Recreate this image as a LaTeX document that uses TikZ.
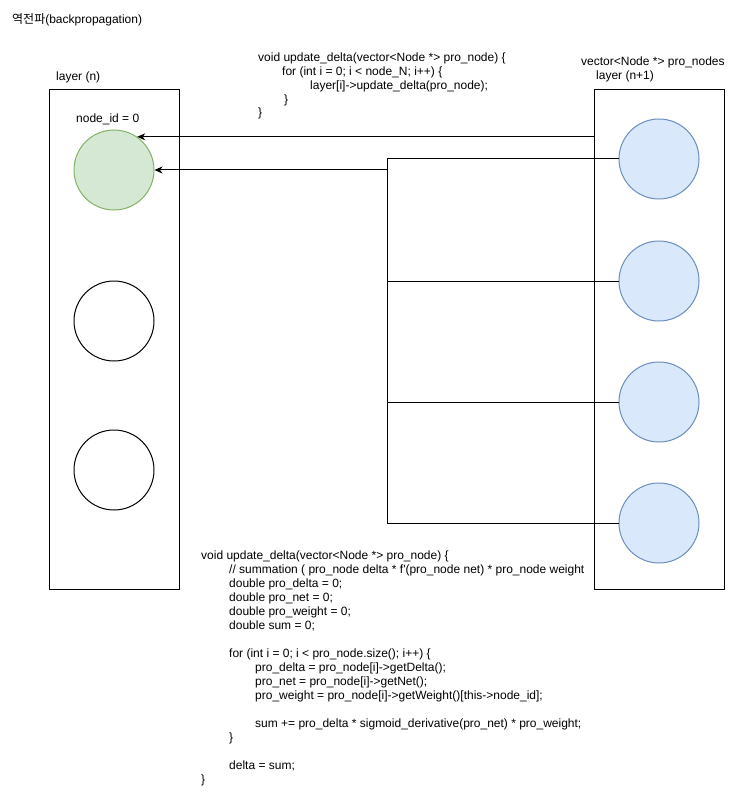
\documentclass[tikz,border=0pt]{standalone}
\usepackage{fontspec}
\setmainfont{Liberation Sans}
\newfontfamily\krfont{Noto Sans CJK KR}
\usetikzlibrary{arrows.meta}

\definecolor{curfill}{HTML}{D5E8D4}
\definecolor{curline}{HTML}{82B366}
\definecolor{profill}{HTML}{DAE8FC}
\definecolor{proline}{HTML}{6C8EBF}

\begin{document}
\begin{tikzpicture}[
  x=1pt, y=-1pt,
  layerbox/.style={
    draw, line width=1pt,
    minimum width=130pt,
    minimum height=499pt,
    inner sep=0pt
  },
  v/.style={circle, draw, line width=1pt, minimum size=80pt, inner sep=0pt},
  cur/.style={v, fill=curfill, draw=curline},   % node being updated
  pro/.style={v, fill=profill, draw=proline},   % pro_nodes of layer (n+1)
  plain/.style={v, fill=white, draw=black},
  txt/.style={font=\fontsize{12}{14}\selectfont, inner sep=0pt, anchor=base west},
  code/.style={txt, align=left},                % placed at its last baseline
  link/.style={draw, line width=1pt},
  arr/.style={link, -{Stealth[length=8pt, width=7pt, inset=2.5pt]}}
]
\useasboundingbox (0,0) rectangle (750,794);

% --- layers ---
\node[layerbox] (layN) at (114,339.5) {};
\node[layerbox] (layM) at (659,339.5) {};

% --- nodes of layer (n) ---
\node[cur]   (n0) at (114,170) {};
\node[plain] (n1) at (114,321) {};
\node[plain] (n2) at (114,470) {};

% --- nodes of layer (n+1) ---
\foreach \i/\y in {1/159,2/281,3/402,4/523}
  \node[pro] (p\i) at (659,\y) {};

% --- connectors ---
\coordinate (spine) at (387,0);
\draw[link] (p1.west) -- (p1.west -| spine) -- (p4.west -| spine) -- (p4.west);
\foreach \i in {2,3}
  \draw[link] (p\i.west) -- (p\i.west -| spine);
\draw[arr] (n0.east -| spine) -- (n0.east);
\draw[arr] (layM.west |- n0.55) -- (n0.55);

% --- labels ---
\node[txt] (title) at (12,24) {{\krfont 역전파}(backpropagation)};
\node[txt] (layNlbl) at (56,81) {layer (n)};
\node[txt] (idlbl) at (76,123) {node\_id = 0};
\node[code] (layMlbl) at (581,80) {vector<Node *> pro\_nodes\\
\hspace*{15pt}layer (n+1)};

% --- code ---
\node[code, font=\fontsize{12}{13.75}\selectfont] (layercode) at (258,117) {void update\_delta(vector<Node *> pro\_node) \{\\
\hspace*{24pt}for (int i = 0; i < node\_N; i++) \{\\
\hspace*{52pt}layer[i]->update\_delta(pro\_node);\\
\hspace*{26pt}\}\\
\}};

\node[code] (nodecode) at (201,783) {void update\_delta(vector<Node *> pro\_node) \{\\
\hspace*{28pt}// summation ( pro\_node delta * f\textquotesingle(pro\_node net) * pro\_node weight\\
\hspace*{28pt}double pro\_delta = 0;\\
\hspace*{28pt}double pro\_net = 0;\\
\hspace*{28pt}double pro\_weight = 0;\\
\hspace*{28pt}double sum = 0;\\
\mbox{}\\
\hspace*{28pt}for (int i = 0; i < pro\_node.size(); i++) \{\\
\hspace*{54pt}pro\_delta = pro\_node[i]->getDelta();\\
\hspace*{54pt}pro\_net = pro\_node[i]->getNet();\\
\hspace*{54pt}pro\_weight = pro\_node[i]->getWeight()[this->node\_id];\\
\mbox{}\\
\hspace*{54pt}sum += pro\_delta * sigmoid\_derivative(pro\_net) * pro\_weight;\\
\hspace*{28pt}\}\\
\mbox{}\\
\hspace*{28pt}delta = sum;\\
\}};

\end{tikzpicture}
\end{document}
